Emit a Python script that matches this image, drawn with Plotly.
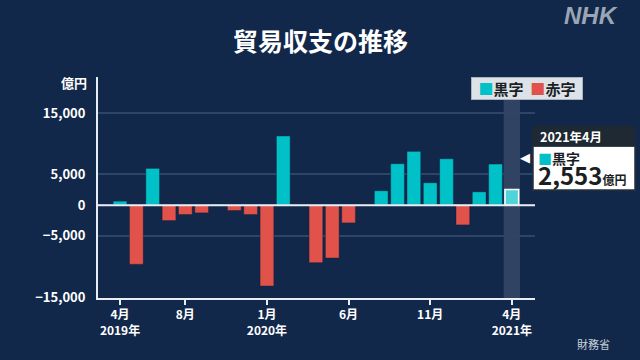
import plotly.graph_objects as go

# ---- data ----
months = ["2019-04", "2019-05", "2019-06", "2019-07", "2019-08", "2019-09", "2019-10",
          "2019-11", "2019-12", "2020-01", "2020-02", "2020-03", "2020-04", "2020-05",
          "2020-06", "2020-07", "2020-08", "2020-09", "2020-10", "2020-11", "2020-12",
          "2021-01", "2021-02", "2021-03", "2021-04"]
balance = [650, -9620, 5980, -2500, -1520, -1250, 160, -870, -1520, -13150, 11250, 50,
           -9350, -8590, -2880, -120, 2340, 6740, 8750, 3640, 7550, -3210, 2170, 6690, 2553]
tick_months = ["2019-04", "2019-08", "2020-01", "2020-06", "2020-11", "2021-04"]
tick_text = ["4月<br>2019年", "8月", "1月<br>2020年", "6月", "11月", "4月<br>2021年"]
y_ticks = [15000, 5000, 0, -5000, -15000]

BG = "#12284b"
CYAN = "#00c0c8"
RED = "#e0524a"
HL = "#4fd4da"
FONT = "Noto Sans CJK JP"

W, H = 640, 360
L, R, T, B = 98, 105, 77, 62


def px(x):
    return (x - L) / (W - L - R)


def py(y):
    return (H - B - y) / (H - T - B)


n = len(balance)
colors = [CYAN if v >= 0 else RED for v in balance]
colors[-1] = HL
line_colors = ["rgba(10,25,50,0.6)"] * n
line_colors[-1] = "white"
line_widths = [0.6] * n
line_widths[-1] = 1.6

fig = go.Figure()
fig.add_trace(go.Bar(
    x=months, y=balance,
    marker=dict(color=colors, line=dict(color=line_colors, width=line_widths)),
    showlegend=False, hoverinfo="skip",
))

last = n - 1
fig.add_shape(type="rect", xref="x", yref="paper", x0=last - 0.5, x1=last + 0.5,
              y0=0, y1=1, fillcolor="rgba(255,255,255,0.13)", line_width=0, layer="below")
fig.add_shape(type="line", xref="paper", yref="y", x0=0, x1=1, y0=0, y1=0,
              line=dict(color="#e8edf3", width=2), layer="above")


def note(x, y, text, **kw):
    d = dict(xref="paper", yref="paper", x=px(x), y=py(y), text=text, showarrow=False,
             xanchor="center", yanchor="middle")
    d.update(kw)
    return d


ann = []
ann.append(note(320, 40, "<b>貿易収支の推移</b>",
                font=dict(size=25, color="white", family=FONT)))
ann.append(note(591, 15, "<b><i>NHK</i></b>",
                font=dict(size=24, color="#9aa6b4", family="Liberation Sans")))
ann.append(note(89, 82, "<b>億円</b>", xanchor="right",
                font=dict(size=13, color="white", family=FONT)))
ann.append(note(593, 344, "財務省",
                font=dict(size=11, color="#c8d0da", family=FONT)))
# legend box
ann.append(note(526.5, 88.5,
                f"<span style='color:{CYAN}'>■</span><b>黒字</b>  <span style='color:{RED}'>■</span><b>赤字</b>",
                font=dict(size=15, color="#1b1f24", family=FONT),
                bgcolor="#dde2e8", bordercolor="#aab3bd", borderwidth=1, borderpad=1,
                width=108, height=19))

# tooltip
label_month = months[last]
yy, mm = label_month.split("-")
fig.add_shape(type="rect", xref="paper", yref="paper", x0=px(533), x1=px(635),
              y0=py(190), y1=py(146), fillcolor="white", line=dict(color="#26303a", width=1.5))
fig.add_shape(type="rect", xref="paper", yref="paper", x0=px(533), x1=px(635),
              y0=py(146), y1=py(126), fillcolor="#1f2933", line=dict(color="#1f2933", width=1))
ann.append(note(538, 136.5, f"<b>{int(yy)}年{int(mm)}月</b>", xanchor="left",
                font=dict(size=12.5, color="white", family=FONT)))
ann.append(note(525, 157.5, "◀",
                font=dict(size=13, color="white", family="DejaVu Sans")))
ann.append(note(536, 146, (f"<span style='font-size:14px'><span style='color:{CYAN}'>■</span><b>黒字</b></span><br>"
                           f"<span style='font-size:24px'><b>{balance[last]:,}</b></span>"
                           f"<span style='font-size:12px'><b>億円</b></span>"),
                xanchor="left", yanchor="top", align="left",
                font=dict(size=16, color="#1b1f24", family=FONT)))

fig.update_layout(
    width=W, height=H,
    margin=dict(l=L, r=R, t=T, b=B),
    paper_bgcolor=BG, plot_bgcolor=BG,
    bargap=0.16,
    annotations=ann,
    font=dict(family=FONT, color="white"),
    xaxis=dict(
        type="category", range=[-1.35, n - 1 + 1.42],
        tickvals=tick_months, ticktext=tick_text,
        showgrid=False, showline=True, linecolor="#e8edf3", linewidth=2,
        ticks="outside", tickcolor="#e8edf3", ticklen=5, tickwidth=2,
        tickfont=dict(size=12, color="white", family=FONT, weight="bold"),
    ),
    yaxis=dict(
        range=[-15100, 20850], tickvals=y_ticks, tickformat=",",
        showgrid=True, gridcolor="#2d4567", gridwidth=1.5,
        zeroline=False, showline=True, linecolor="#e8edf3", linewidth=2,
        ticks="", ticklabelstandoff=8,
        tickfont=dict(size=13, color="white", family=FONT, weight="bold"),
    ),
)

fig.write_html("out.html", config={"displayModeBar": False},
               post_script="document.body.style.margin='0';")
